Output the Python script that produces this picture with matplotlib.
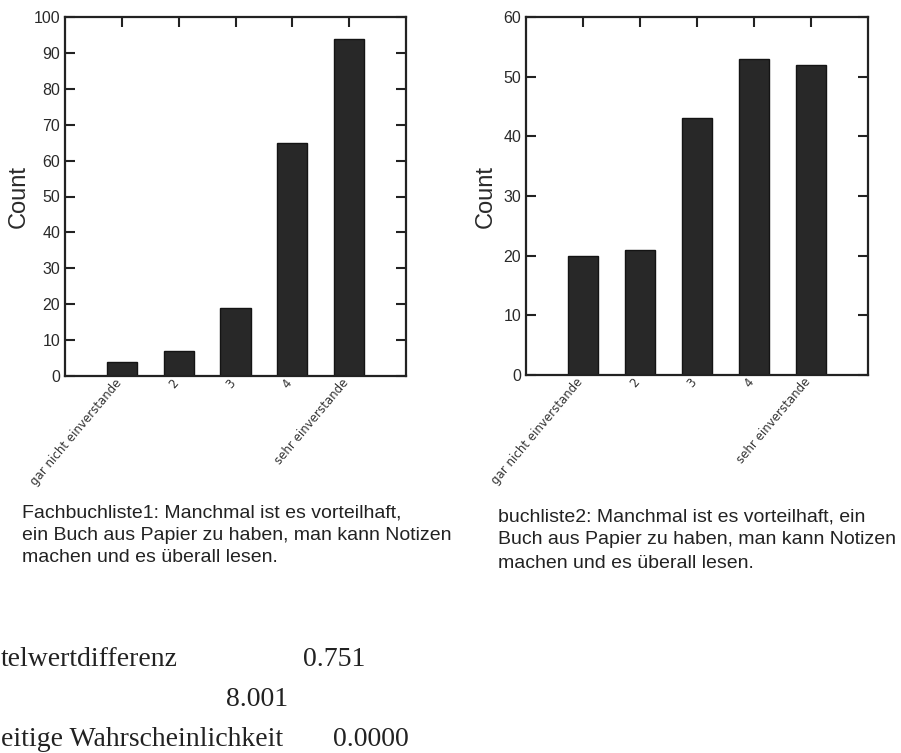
import matplotlib
matplotlib.use("Agg")
import matplotlib.pyplot as plt
import matplotlib.transforms as mtransforms
import numpy as np

# ---- data ----
categories = ["gar nicht einverstande", "2", "3", "4", "sehr einverstande"]
counts_left = [4, 7, 19, 65, 94]
counts_right = [20, 21, 43, 53, 52]
yticks_left = [0, 10, 20, 30, 40, 50, 60, 70, 80, 90, 100]
yticks_right = [0, 10, 20, 30, 40, 50, 60]
caption_left = ["Fachbuchliste1: Manchmal ist es vorteilhaft,",
                "ein Buch aus Papier zu haben, man kann Notizen",
                "machen und es überall lesen."]
caption_right = ["buchliste2: Manchmal ist es vorteilhaft, ein",
                 "Buch aus Papier zu haben, man kann Notizen",
                 "machen und es überall lesen."]
stat_labels = ["telwertdifferenz", "", "eitige Wahrscheinlichkeit"]
stat_values = ["0.751", "8.001", "0.0000"]

W, H = 901, 753
fig = plt.figure(figsize=(W / 100, H / 100), dpi=100)
fig.patch.set_facecolor("white")


def fx(px):
    return px / W


def fy(py):
    return 1 - py / H


def make_axes(left, right, top, bottom, values, yticks):
    ax = fig.add_axes([fx(left), fy(bottom), fx(right - left), (bottom - top) / H])
    x = np.arange(len(values))
    ax.bar(x, values, width=0.53, color="#282828", edgecolor="#141414", linewidth=1.0, zorder=1)
    ax.set_xlim(-1, 5)
    ax.set_ylim(yticks[0], yticks[-1])
    ax.set_yticks(yticks)
    ax.set_yticklabels([str(v) for v in yticks], fontsize=11.5, family="Liberation Sans", color="#2a2a2a")
    ax.set_xticks(x)
    ax.tick_params(axis="y", which="both", direction="in", left=True, right=True,
                   length=7.2, width=1.5, pad=3.5, color="#222222")
    ax.tick_params(axis="x", which="both", direction="in", bottom=False, top=True,
                   length=7.2, width=1.5, pad=3, color="#222222")
    ax.set_xticklabels(categories, rotation=50, ha="right", va="top",
                       rotation_mode="anchor", fontsize=8.5, family="DejaVu Sans",
                       color="#333333")
    shift = mtransforms.ScaledTranslation(-0.075, 0.035, fig.dpi_scale_trans)
    for tick in ax.xaxis.get_major_ticks():
        tick.label1.set_transform(tick.label1.get_transform() + shift)
    for s in ax.spines.values():
        s.set_linewidth(1.6)
        s.set_color("#222222")
    ax.set_ylabel("Count", fontsize=17, family="Liberation Sans", color="#2a2a2a")
    return ax


axL = make_axes(65, 406, 17, 376, counts_left, yticks_left)
axL.yaxis.set_label_coords((30 - 65) / 341, 0.5)
axR = make_axes(526, 868, 17, 375, counts_right, yticks_right)
axR.yaxis.set_label_coords((497 - 526) / 342, 0.5)

# captions
for i, line in enumerate(caption_left):
    fig.text(fx(22), fy(513 + 22 * i), line, fontsize=14, family="Liberation Sans",
             color="#222222", ha="left", va="center")
for i, line in enumerate(caption_right):
    fig.text(fx(498), fy(517 + 23 * i), line, fontsize=14, family="Liberation Sans",
             color="#222222", ha="left", va="center")

# statistics block
stat_y = [659, 700, 740]
value_x = [303, 226, 333]
for lab, val, y, vx in zip(stat_labels, stat_values, stat_y, value_x):
    if lab:
        fig.text(fx(1), fy(y), lab, fontsize=20, family="Liberation Serif",
                 color="#222222", ha="left", va="center")
    fig.text(fx(vx), fy(y), val, fontsize=20, family="Liberation Serif",
             color="#222222", ha="left", va="center")

fig.savefig("out.png", dpi=100, facecolor="white")
